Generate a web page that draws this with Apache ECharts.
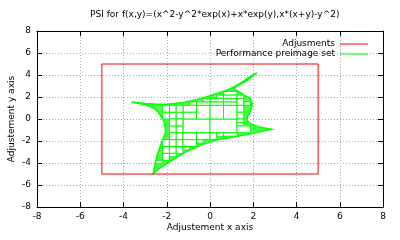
<!DOCTYPE html>
<html>
<head>
<meta charset="utf-8">
<script src="https://cdn.jsdelivr.net/npm/echarts@6/dist/echarts.min.js"></script>
<style>html,body{margin:0;padding:0;background:#fff}#c{width:400px;height:240px}</style>
</head>
<body>
<div id="c"></div>
<script>
const titleText = 'PSI for f(x,y)=(x^2-y^2*exp(x)+x*exp(y),x*(x+y)-y^2)';
const xName = 'Adjustement x axis';
const yName = 'Adjustement y axis';
const legendNames = ['Adjusments', 'Performance preimage set'];
const axisMin = -8, axisMax = 8, axisStep = 2;

// red "Adjusments" rectangle
const adjX = [-5, 5, 5, -5, -5];
const adjY = [-5, -5, 5, 5, -5];

// outline of the preimage set (clockwise from left tip)
const outlineX = [-3.62,-3.0,-2.4,-2.0,-1.2,-0.46,0.3,0.8,1.2,1.55,1.85,2.16,
  1.7,1.3,1.08,
  1.35,1.6,1.85,1.95,1.92,1.85,1.72,1.72,1.85,2.2,2.85,
  2.2,1.7,1.0,0.3,-0.4,-1.08,-1.6,-2.0,-2.35,-2.62,
  -2.55,-2.46,-2.31,-2.15,-2.05,-2.08,-2.13,-2.25,-2.4,-2.6,-2.9];
const outlineY = [1.55,1.42,1.35,1.33,1.5,1.85,2.3,2.65,3.0,3.45,3.85,4.2,
  3.5,3.05,2.8,
  2.45,2.15,1.88,1.45,1.0,0.6,0.2,-0.1,-0.4,-0.7,-0.94,
  -1.2,-1.42,-1.65,-1.92,-2.35,-2.95,-3.55,-4.05,-4.5,-4.94,
  -4.2,-3.43,-2.52,-1.7,-1.15,-0.6,-0.25,0.2,0.65,1.0,1.25];

// interior boxes of the subpaving [x1, y1, x2, y2]
const boxes = [
  [-1.25,-1.25,0,0],[0,-1.25,1.25,0],
  [-1.25,0,-0.625,0.625],[-1.25,0.625,-0.625,1.25],[-0.625,0,0,1.25],[0,0,0.625,1.25],[0.625,0,1.25,1.25],
  [-2.1875,0,-1.875,0.625],[-1.875,0,-1.5625,0.625],[-1.5625,0,-1.25,0.625],[1.25,0,1.5625,0.625],
  [-2.1875,0.625,-1.875,1.25],[-1.875,0.625,-1.5625,1.25],[-1.5625,0.625,-1.25,1.25],[1.25,0.625,1.5625,1.25],
  [-1.875,-1.25,-1.5625,-0.625],[-1.5625,-1.25,-1.25,-0.625],[-1.875,-0.625,-1.5625,0],[-1.5625,-0.625,-1.25,0],
  [1.25,-1.25,1.875,-0.625],[1.25,-0.625,1.5625,-0.3125],[1.25,-0.3125,1.5625,0],
  [-1.875,-1.875,-1.5625,-1.25],[-1.5625,-1.875,-1.25,-1.25],[-1.25,-1.875,-0.625,-1.25],[-0.625,-1.875,0,-1.25],[0,-1.875,0.3125,-1.25],
  [0.3125,-1.5625,0.625,-1.25],[0.625,-1.5625,1.25,-1.25],
  [-2.1875,-2.5,-1.875,-1.875],[-1.875,-2.5,-1.5625,-1.875],[-1.5625,-2.5,-1.25,-1.875],[-1.25,-2.5,-0.625,-1.875],[-0.625,-2.1875,-0.3125,-1.875],
  [-2.1875,-3.125,-1.875,-2.5],[-1.875,-3.125,-1.5625,-2.5],[-1.5625,-3.125,-1.25,-2.5],[-1.25,-2.8125,-0.9375,-2.5],
  [-2.1875,-3.75,-1.875,-3.125],[-1.875,-3.4375,-1.5625,-3.125],
  [-2.5,-4.0625,-2.1875,-3.75],
  [0,1.25,0.625,1.5625],[0,1.5625,0.625,1.875],[0.625,1.25,1.25,1.5625],[0.625,1.5625,1.25,1.875],
  [1.25,1.25,1.5625,1.875],[1.5625,1.25,1.875,1.5625],
  [-0.625,1.25,0,1.5625],[-0.9375,1.25,-0.625,1.5625],[-0.3125,1.5625,0,1.875],
  [0.625,1.875,1.25,2.1875],[0.625,2.1875,1.25,2.5],[0.3125,1.875,0.625,2.1875],[1.25,1.875,1.5625,2.1875]
];

const FONT = 'DejaVu Sans';
const GREEN = '#00ff00';
const RED = '#ff0000';

const chart = echarts.init(document.getElementById('c'), null, {renderer: 'canvas'});

const outlinePts = outlineX.map((x, i) => [x, outlineY[i]]);
const adjPts = adjX.map((x, i) => [x, adjY[i]]);

function baseAxis(pos, main) {
  return {
    type: 'value', position: pos, min: axisMin, max: axisMax, interval: axisStep,
    axisLine: {show: true, onZero: false, lineStyle: {color: '#000', width: 1}},
    axisTick: {show: true, inside: true, length: 5, lineStyle: {color: '#000'}},
    axisLabel: {show: main, color: '#000', fontFamily: FONT, fontSize: 9},
    splitLine: {show: main, lineStyle: {color: '#aaaaaa', type: [1, 2], width: 1}}
  };
}

const xMain = Object.assign(baseAxis('bottom', true), {
  name: xName, nameLocation: 'middle', nameGap: 16, nameMoveOverlap: false,
  nameTextStyle: {color: '#000', fontFamily: FONT, fontSize: 9, verticalAlign: 'top'},
  axisLabel: {show: true, color: '#000', fontFamily: FONT, fontSize: 9, margin: 5}
});
const yMain = Object.assign(baseAxis('left', true), {
  name: yName, nameLocation: 'middle', nameGap: 25, nameRotate: 90, nameMoveOverlap: false,
  nameTextStyle: {color: '#000', fontFamily: FONT, fontSize: 9, verticalAlign: 'middle'},
  axisLabel: {show: true, color: '#000', fontFamily: FONT, fontSize: 9, margin: 6}
});

chart.setOption({
  animation: false,
  backgroundColor: '#fff',
  title: {
    text: titleText, left: 85, top: 5,
    textStyle: {fontFamily: FONT, fontSize: 9, fontWeight: 'normal', color: '#000'}
  },
  legend: {
    data: legendNames, orient: 'vertical', right: 27, top: 34, align: 'right',
    icon: 'rect', itemWidth: 28, itemHeight: 1, itemGap: 0, selectedMode: false,
    textStyle: {fontFamily: FONT, fontSize: 9, color: '#000', lineHeight: 10}
  },
  grid: {left: 37, right: 17, top: 31, bottom: 33, containLabel: false, outerBoundsMode: 'none'},
  xAxis: [xMain, baseAxis('top', false)],
  yAxis: [yMain, baseAxis('right', false)],
  series: [
    {
      name: 'psiFill', type: 'custom', xAxisIndex: 0, yAxisIndex: 0,
      data: [0], silent: true, z: 2,
      renderItem: function (params, api) {
        const pts = outlinePts.map(p => api.coord(p));
        return {type: 'polygon', shape: {points: pts},
          style: {fill: 'rgba(0,255,0,0.7)', stroke: GREEN, lineWidth: 1.5}};
      }
    },
    {
      name: 'psiBoxes', type: 'custom', xAxisIndex: 0, yAxisIndex: 0,
      data: boxes, silent: true, z: 3,
      encode: {x: [0, 2], y: [1, 3]},
      renderItem: function (params, api) {
        const a = api.coord([api.value(0), api.value(1)]);
        const b = api.coord([api.value(2), api.value(3)]);
        return {type: 'rect',
          shape: {x: Math.min(a[0], b[0]), y: Math.min(a[1], b[1]),
                  width: Math.abs(b[0] - a[0]), height: Math.abs(b[1] - a[1])},
          style: {fill: '#ffffff', stroke: GREEN, lineWidth: 1}};
      }
    },
    {
      name: legendNames[0], type: 'line', xAxisIndex: 0, yAxisIndex: 0,
      data: adjPts, symbol: 'none', z: 4,
      lineStyle: {color: RED, width: 1}, itemStyle: {color: RED}
    },
    {
      name: legendNames[1], type: 'line', xAxisIndex: 0, yAxisIndex: 0,
      data: [], symbol: 'none',
      lineStyle: {color: GREEN, width: 1}, itemStyle: {color: GREEN}
    }
  ]
});
</script>
</body>
</html>
